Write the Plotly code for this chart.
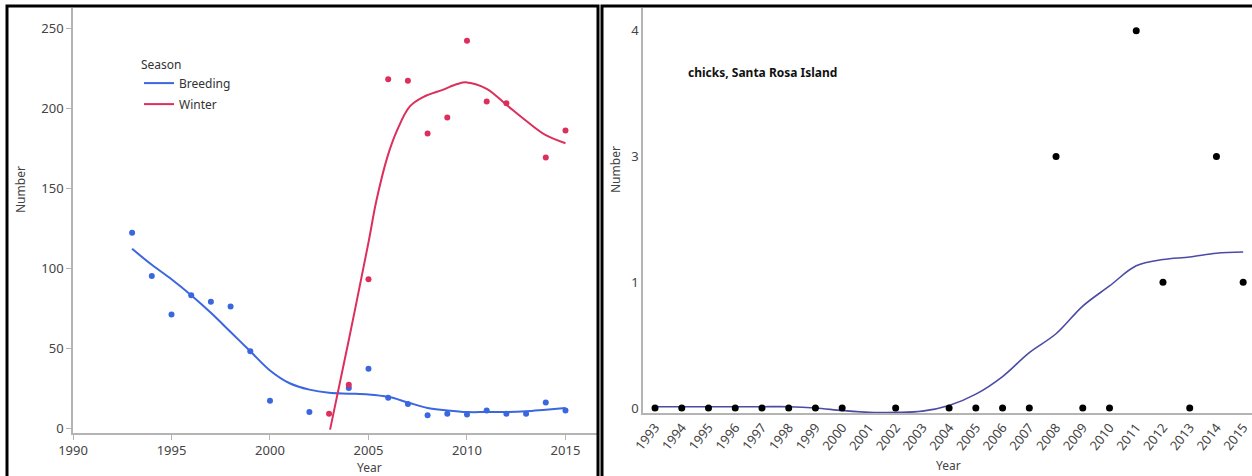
import plotly.graph_objects as go

W, H = 1252, 476

# ---------- Left panel data ----------
breed_years = [1993, 1994, 1995, 1996, 1997, 1998, 1999, 2000, 2002, 2004, 2005, 2006,
               2007, 2008, 2009, 2010, 2011, 2012, 2013, 2014, 2015]
breed_vals = [122, 95, 71, 83, 79, 76, 48, 17, 10, 25, 37, 19, 15, 8, 9, 8.5, 11, 9, 9, 16, 11]

winter_years = [2003, 2004, 2005, 2006, 2007, 2008, 2009, 2010, 2011, 2012, 2014, 2015]
winter_vals = [9, 27, 93, 218, 217, 184, 194, 242, 204, 203, 169, 186]

breed_fit_years = [1993, 1994, 1995, 1996, 1997, 1998, 1999, 2000, 2001, 2002, 2003, 2004,
                   2005, 2006, 2007, 2008, 2009, 2010, 2011, 2012, 2013, 2014, 2015]
breed_fit_vals = [112, 102, 93, 83, 72, 60, 48, 36, 28, 24, 22, 21.5, 21, 19.5, 16, 12.5,
                  11, 10, 10, 10, 10.5, 11.5, 12.5]

winter_fit_years = [2003.05, 2004.0, 2005.0, 2005.4, 2005.95, 2006.45, 2007.1, 2007.8, 2008.8,
                    2009.5, 2010.0, 2011.0, 2012.0, 2013.0, 2014.0, 2015.0]
winter_fit_vals = [-1, 55, 116, 142, 169, 186, 201, 207, 211.5, 215, 216, 212, 202, 192, 183, 178]

left_xticks = [1990, 1995, 2000, 2005, 2010, 2015]
left_yticks = [0, 50, 100, 150, 200, 250]

# ---------- Right panel data ----------
chick_years = [1993, 1994, 1995, 1996, 1997, 1998, 1999, 2000, 2002, 2004, 2005, 2006, 2007,
               2008, 2009, 2010, 2011, 2012, 2013, 2014, 2015]
chick_vals = [0, 0, 0, 0, 0, 0, 0, 0, 0, 0, 0, 0, 0, 3, 0, 0, 4, 1, 0, 3, 1]
chick_levels = [0, 1, 3, 4]          # y-axis shows these values as evenly spaced levels

chick_fit_years = [1993, 1994, 1995, 1996, 1997, 1998, 1999, 2000, 2001, 2002, 2003, 2004,
                   2005, 2006, 2007, 2008, 2009, 2010, 2011, 2012, 2013, 2014, 2015]
chick_fit_level = [0.01, 0.01, 0.01, 0.01, 0.01, 0.01, 0.0, -0.02, -0.035, -0.035, -0.025, 0.02,
                   0.11, 0.25, 0.44, 0.59, 0.81, 0.97, 1.13, 1.18, 1.2, 1.23, 1.24]
right_xticks = list(range(1993, 2016))

chick_pos = [chick_levels.index(v) for v in chick_vals]

BLUE = "#3a66e0"
RED = "#dc2f5c"
SLATE = "#4b4ba6"
FONT = "Noto Sans"
TICKC = "#444444"
AXC = "#b4b4b4"

fig = go.Figure()

# Left panel
fig.add_trace(go.Scatter(x=breed_years, y=breed_vals, mode="markers",
                         marker=dict(color=BLUE, size=6), showlegend=False,
                         xaxis="x", yaxis="y"))
fig.add_trace(go.Scatter(x=winter_years, y=winter_vals, mode="markers",
                         marker=dict(color=RED, size=6), showlegend=False,
                         xaxis="x", yaxis="y"))
fig.add_trace(go.Scatter(x=breed_fit_years, y=breed_fit_vals, mode="lines", name="Breeding",
                         legendgroup="b",
                         line=dict(color=BLUE, width=2, shape="spline", smoothing=1.0),
                         xaxis="x", yaxis="y"))
fig.add_trace(go.Scatter(x=winter_fit_years, y=winter_fit_vals, mode="lines", name="Winter",
                         legendgroup="w",
                         line=dict(color=RED, width=2, shape="spline", smoothing=1.0),
                         xaxis="x", yaxis="y"))

# Right panel
fig.add_trace(go.Scatter(x=chick_fit_years, y=chick_fit_level, mode="lines",
                         line=dict(color=SLATE, width=1.6, shape="spline", smoothing=1.0),
                         showlegend=False, xaxis="x2", yaxis="y2"))
fig.add_trace(go.Scatter(x=chick_years, y=chick_pos, mode="markers",
                         marker=dict(color="black", size=7), showlegend=False,
                         xaxis="x2", yaxis="y2"))

axis_common = dict(showgrid=False, zeroline=False, showline=True, linecolor=AXC, linewidth=1.5,
                   tickfont=dict(family=FONT, size=13, color=TICKC), automargin=False)

fig.update_layout(
    width=W, height=H,
    margin=dict(l=0, r=0, t=0, b=0),
    paper_bgcolor="white", plot_bgcolor="white",
    font=dict(family=FONT, color=TICKC),
    xaxis=dict(domain=[73 / W, 597 / W], range=[1990, 2016.6], tickvals=left_xticks,
               ticks="outside", ticklen=5, tickcolor=AXC, anchor="y", **axis_common),
    yaxis=dict(domain=[(H - 433) / H, (H - 8) / H], range=[-3.1, 262.5], tickvals=left_yticks,
               ticks="outside", ticklen=5, tickcolor=AXC, anchor="x", **axis_common),
    xaxis2=dict(domain=[643 / W, 1.0], range=[1992.55, 2015.33], tickvals=right_xticks,
                ticktext=[str(y) for y in right_xticks], tickangle=-52, ticks="",
                anchor="y2", **axis_common),
    yaxis2=dict(domain=[(H - 413) / H, (H - 8) / H], range=[-0.04, 3.18],
                tickvals=list(range(len(chick_levels))),
                ticktext=[str(v) for v in chick_levels], ticks="", anchor="x2", **axis_common),
    legend=dict(x=139 / W, y=(H - 53) / H, xanchor="left", yanchor="top",
                title=dict(text="Season", font=dict(family=FONT, size=12, color="#333")),
                font=dict(family=FONT, size=12, color="#333"), bgcolor="rgba(0,0,0,0)",
                tracegroupgap=2, itemwidth=30),
    annotations=[
        dict(text="Number", x=20 / W, y=(H - 190) / H, xref="paper", yref="paper",
             xanchor="center", yanchor="middle",
             textangle=-90, showarrow=False, font=dict(family=FONT, size=12, color="#444")),
        dict(text="Year", x=369 / W, y=(H - 467) / H, xref="paper", yref="paper",
             xanchor="center", yanchor="middle", showarrow=False,
             font=dict(family=FONT, size=12, color="#444")),
        dict(text="Number", x=616 / W, y=(H - 170) / H, xref="paper", yref="paper",
             xanchor="center", yanchor="middle",
             textangle=-90, showarrow=False, font=dict(family=FONT, size=12, color="#444")),
        dict(text="Year", x=948 / W, y=(H - 465) / H, xref="paper", yref="paper",
             xanchor="center", yanchor="middle", showarrow=False,
             font=dict(family=FONT, size=12, color="#444")),
        dict(text="<b>chicks, Santa Rosa Island</b>", x=686 / W, y=(H - 72) / H,
             xref="paper", yref="paper", xanchor="left", yanchor="middle", showarrow=False,
             font=dict(family=FONT, size=12, color="#111")),
    ],
    shapes=[
        dict(type="rect", xref="paper", yref="paper", x0=7 / W, x1=598 / W, y0=-0.05,
             y1=(H - 6) / H, line=dict(color="black", width=3)),
        dict(type="rect", xref="paper", yref="paper", x0=602 / W, x1=1.05, y0=-0.05,
             y1=(H - 6) / H, line=dict(color="black", width=3)),
    ],
)

fig.write_html("out.html", config={"displayModeBar": False},
               post_script="document.body.style.margin='0';document.body.style.padding='0';"
                           "document.body.style.overflow='hidden';")
